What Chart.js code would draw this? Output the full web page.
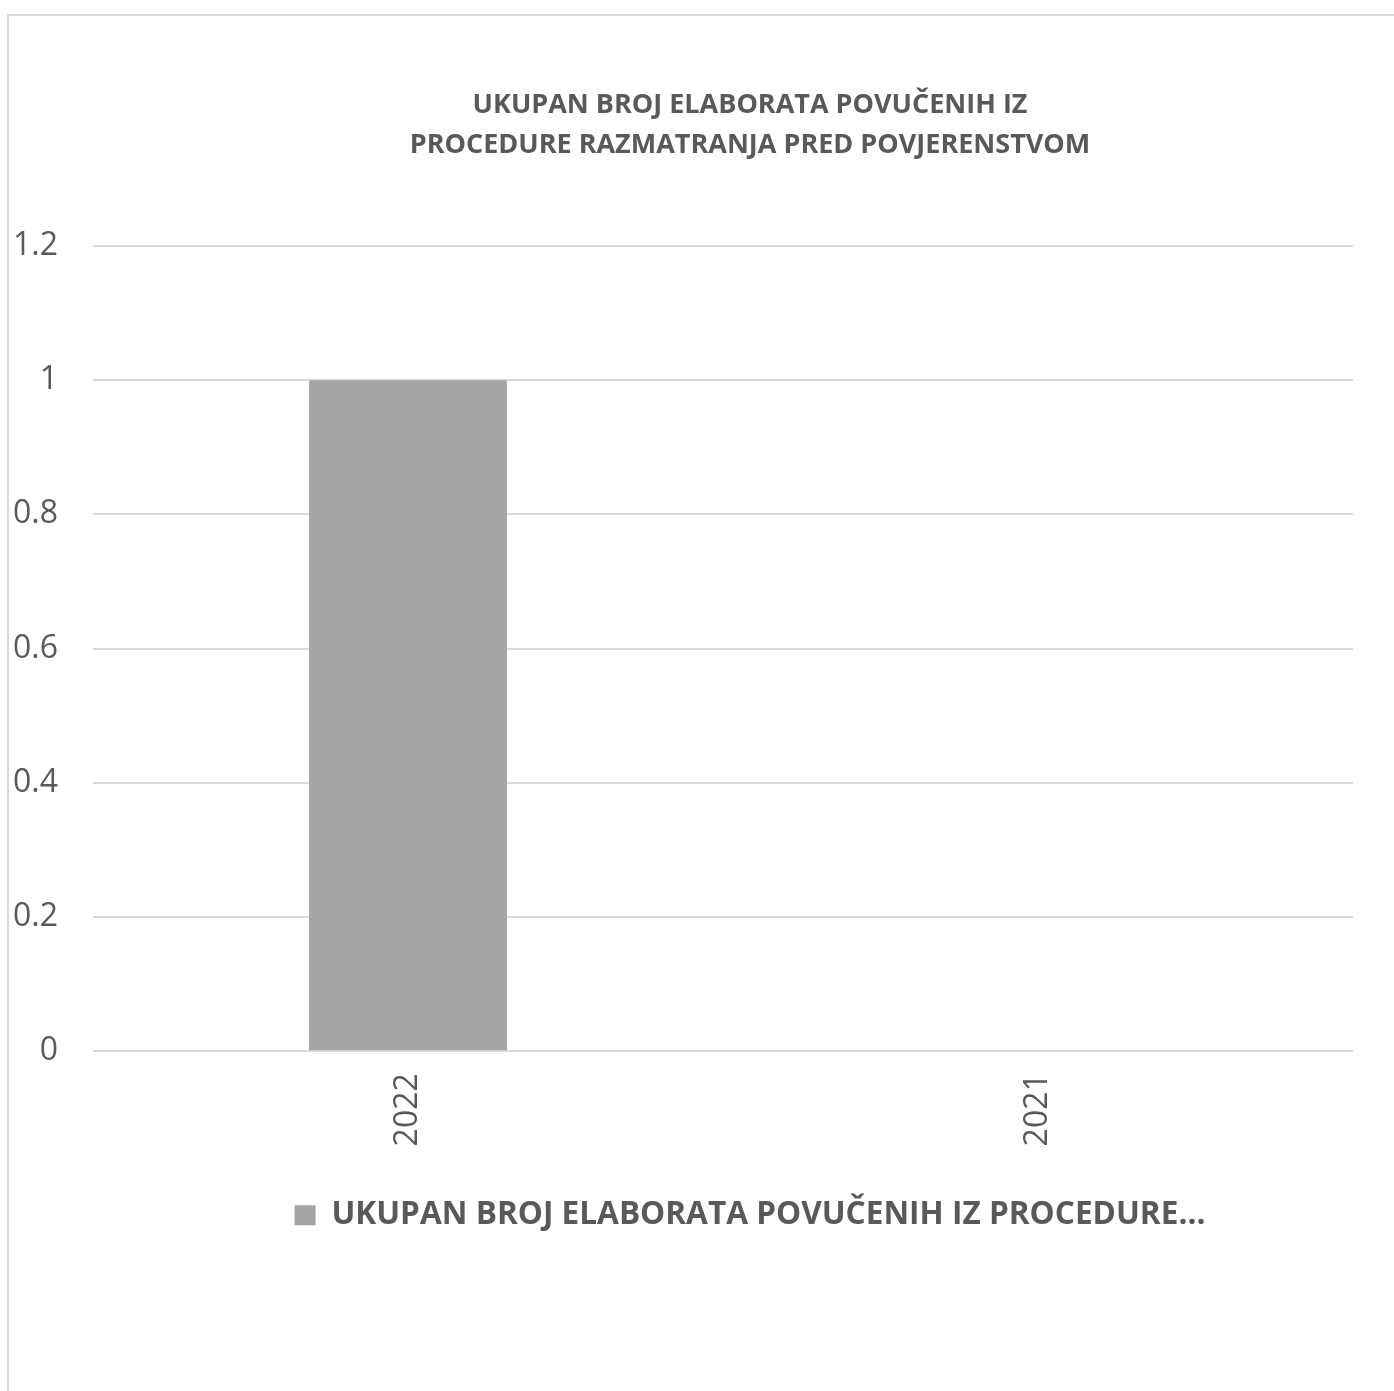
<!DOCTYPE html>
<html>
<head>
<meta charset="utf-8">
<title>Elaborati povučeni iz procedure</title>
<script src="https://cdn.jsdelivr.net/npm/chart.js@4.4.1/dist/chart.umd.min.js"></script>
<style>
    html, body { margin: 0; padding: 0; background: #fff; overflow: hidden; }
    .frame {
        position: absolute; left: 7px; top: 14px; width: 2000px; height: 2000px;
        border-left: 2px solid #d9d9d9; border-top: 2px solid #d9d9d9;
    }
    .wrap { position: absolute; left: 0; top: 0; width: 1487px; height: 1391px; }
</style>
</head>
<body>
<div class="frame"></div>
<div class="wrap"><canvas id="chart"></canvas></div>
<script>
// chart data
const titleLines = ['UKUPAN BROJ ELABORATA POVUČENIH IZ', 'PROCEDURE RAZMATRANJA PRED POVJERENSTVOM'];
const years = ['2022', '2021'];
const withdrawn = [1, 0];
const seriesLabel = 'UKUPAN BROJ ELABORATA POVUČENIH IZ PROCEDURE…';
const yTicks = { min: 0, max: 1.2, step: 0.2 };

const textColor = '#595959';
const fontFamily = "'Open Sans', 'Liberation Sans', sans-serif";

new Chart(document.getElementById('chart'), {
    type: 'bar',
    data: {
        labels: years,
        datasets: [{
            label: seriesLabel,
            data: withdrawn,
            backgroundColor: '#a5a5a5',
            categoryPercentage: 1,
            barPercentage: 0.314
        }]
    },
    options: {
        responsive: true,
        maintainAspectRatio: false,
        animation: false,
        layout: { padding: { left: 13, right: 0, top: 85, bottom: 150 } },
        plugins: {
            title: {
                display: true,
                text: titleLines,
                color: textColor,
                font: { family: fontFamily, size: 27, weight: 'bold', lineHeight: 1.48 },
                padding: { top: 0, bottom: 81 }
            },
            legend: {
                position: 'bottom',
                labels: {
                    color: textColor,
                    font: { family: fontFamily, size: 31.6, weight: 'bold' },
                    boxWidth: 21,
                    boxHeight: 20,
                    padding: 39
                }
            },
            tooltip: { enabled: false }
        },
        scales: {
            x: {
                grid: { display: false },
                border: { display: false },
                ticks: {
                    color: textColor,
                    font: { family: fontFamily, size: 32 },
                    minRotation: 90,
                    maxRotation: 90,
                    padding: 14
                }
            },
            y: {
                min: yTicks.min,
                max: yTicks.max,
                grid: { color: '#d9d9d9', lineWidth: 2, drawTicks: false },
                border: { display: false },
                afterFit: scale => { scale.width = 80; },
                ticks: {
                    stepSize: yTicks.step,
                    color: textColor,
                    font: { family: fontFamily, size: 32 },
                    padding: 35,
                    callback: v => String(Number(v.toFixed(1)))
                }
            },
            // empty right-hand strip, keeps the plot area narrower than the title/legend band
            spare: {
                type: 'linear',
                position: 'right',
                display: true,
                grid: { drawOnChartArea: false, drawTicks: false },
                border: { display: false },
                ticks: { display: false },
                afterFit: scale => { scale.width = 134; }
            }
        }
    }
});
</script>
</body>
</html>
